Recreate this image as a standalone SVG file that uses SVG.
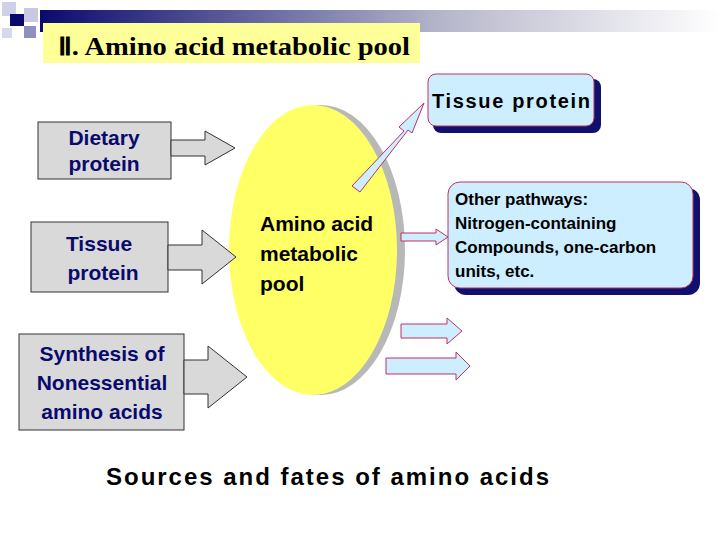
<svg xmlns="http://www.w3.org/2000/svg" width="720" height="540" viewBox="0 0 720 540">
<defs>
<linearGradient id="bar" x1="0" x2="1" y1="0" y2="0"><stop offset="0" stop-color="#0a0a6e"/><stop offset="0.6" stop-color="#b8b8cc"/><stop offset="1" stop-color="#ffffff"/></linearGradient>
<style>
.src{fill:#d9d9d9;stroke:#333;stroke-width:1}
.srct{font-family:"Liberation Sans",Arial,sans-serif;font-size:21px;font-weight:bold;fill:#0a0a6e;text-anchor:middle}
.dst{fill:#cceeff;stroke:#c03060;stroke-width:1}
.sh{fill:#10106e}
.blk{font-family:"Liberation Sans",Arial,sans-serif;font-weight:bold;fill:#000}
.ga{fill:#d9d9d9;stroke:#333;stroke-width:1}
.ba{fill:#cceeff;stroke:#c03060;stroke-width:1}
</style>
</defs>
<rect width="720" height="540" fill="#fff"/>
<g id="header">
<rect x="40" y="10" width="680" height="22" fill="url(#bar)"/>
<rect x="2" y="2" width="14" height="14" fill="#d0d0e8"/>
<rect x="10" y="14" width="14" height="12" fill="#0a0a6e"/>
<rect x="24" y="8" width="14" height="14" fill="#c8c8e0"/>
<rect x="24" y="26" width="12" height="12" fill="#9090c0"/>
<rect x="2" y="28" width="10" height="10" fill="#d8d8ec"/>
<rect x="43" y="23" width="377" height="40" fill="#ffff99"/>
<text x="58" y="55" font-family="'Liberation Serif','Times New Roman',serif" font-size="25" font-weight="bold" fill="#000" textLength="352" lengthAdjust="spacingAndGlyphs">Ⅱ. Amino acid metabolic pool</text>
</g>
<g id="pool">
<ellipse cx="321" cy="250" rx="84" ry="145" fill="#b8b8b8"/>
<ellipse cx="313" cy="250" rx="84" ry="145" fill="#ffff66"/>
<text class="blk" font-size="21" x="260" y="231">Amino acid</text>
<text class="blk" font-size="21" x="260" y="261">metabolic</text>
<text class="blk" font-size="21" x="260" y="291">pool</text>
</g>
<g id="dietary">
<rect class="src" x="38" y="122" width="133" height="57"/>
<text class="srct" x="104" y="145">Dietary</text>
<text class="srct" x="104" y="171">protein</text>
</g>
<g id="tissue-src">
<rect class="src" x="31" y="222" width="137" height="70"/>
<text class="srct" x="99" y="251">Tissue</text>
<text class="srct" x="103" y="280">protein</text>
</g>
<g id="synthesis">
<rect class="src" x="19" y="334" width="165" height="96"/>
<text class="srct" x="102" y="361">Synthesis of</text>
<text class="srct" x="102" y="390">Nonessential</text>
<text class="srct" x="102" y="419">amino acids</text>
</g>
<g id="tissue-dst">
<rect class="sh" x="433" y="79" width="168" height="54" rx="8"/>
<rect class="dst" x="428" y="74" width="166" height="52" rx="8"/>
<text class="blk" font-size="20" x="432" y="108" font-weight="normal" textLength="158">Tissue protein</text>
</g>
<g id="other">
<rect class="sh" x="454" y="188" width="246" height="107" rx="12"/>
<rect class="dst" x="448" y="182" width="245" height="106" rx="12"/>
<text class="blk" font-size="17" x="455" y="205">Other  pathways:</text>
<text class="blk" font-size="17" x="455" y="229">Nitrogen-containing</text>
<text class="blk" font-size="17" x="455" y="253">Compounds, one-carbon</text>
<text class="blk" font-size="17" x="455" y="277">units, etc.</text>
</g>
<g id="connectors">
<polygon class="ga" points="171,140 205,140 205,131 235,148 205,165 205,156 171,156"/>
<polygon class="ga" points="168,245 202,245 202,230 236,257 202,284 202,270 168,270"/>
<polygon class="ga" points="184,360 208,360 208,346 247,377 208,408 208,394 184,394"/>
<polygon class="ba" points="352,186 404,131 399,127 424,103 412,133 408,130 360,192"/>
<polygon class="ba" points="401,233 436,233 436,229 448,237 436,245 436,241 401,241"/>
<polygon class="ba" points="401,324 447,324 447,318 462,331 447,344 447,338 401,338"/>
<polygon class="ba" points="386,358 456,358 456,352 470,366 456,380 456,374 386,374"/>
</g>
<text class="blk" font-size="24" x="106" y="485" font-weight="normal" textLength="443">Sources and fates of amino acids</text>
</svg>
